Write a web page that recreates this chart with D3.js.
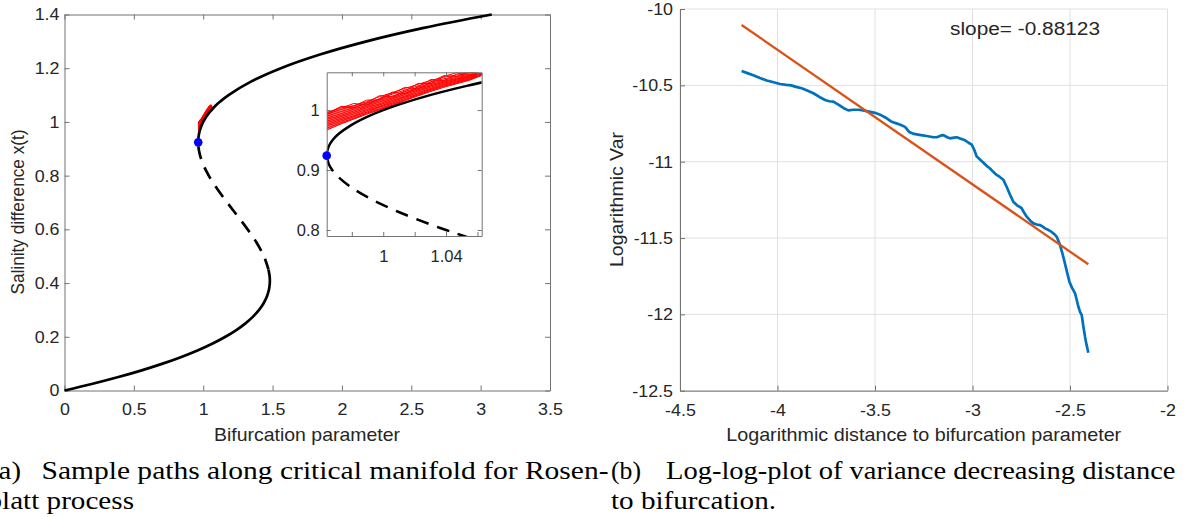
<!DOCTYPE html>
<html>
<head>
<meta charset="utf-8">
<script src="https://cdn.jsdelivr.net/npm/d3@7"></script>
<style>
  html, body { margin: 0; padding: 0; background: #fff; }
  svg { display: block; }
  text { font-family: 'Liberation Sans', Arial, sans-serif; fill: #262626; }
  text.cap { font-family: 'Liberation Serif', 'DejaVu Serif', serif; fill: #000; }
</style>
</head>
<body>
<svg id="fig" width="1186" height="517"></svg>
<script>
/* ---------- data ---------- */

// (a) critical manifold, points are [bifurcation parameter, salinity difference]
const lowerBranch = [
  [0, 0], [0.2032, 0.025], [0.3884, 0.05], [0.5563, 0.075], [0.7075, 0.1],
  [0.8428, 0.125], [0.9628, 0.15], [1.0683, 0.175], [1.16, 0.2], [1.2386, 0.225],
  [1.3047, 0.25], [1.3591, 0.275], [1.4025, 0.3], [1.4355, 0.325], [1.4591, 0.35],
  [1.4737, 0.375], [1.48, 0.4], [1.4804, 0.41], [1.4789, 0.425], [1.4709, 0.45]
];
const middleBranch = [
  [0.964, 0.924], [0.9653, 0.91], [0.9675, 0.9], [0.9708, 0.89], [0.9803, 0.87],
  [0.9934, 0.85], [1.0099, 0.83], [1.0293, 0.81], [1.04, 0.8], [1.0513, 0.79],
  [1.0755, 0.77], [1.1016, 0.75], [1.1725, 0.7], [1.2472, 0.65], [1.32, 0.6],
  [1.3853, 0.55], [1.4375, 0.5], [1.4709, 0.45]
];
const upperBranch = [
  [0.964, 0.924], [0.9642, 0.93], [0.9654, 0.94], [0.9678, 0.95], [0.9715, 0.96],
  [0.9796, 0.975], [0.9907, 0.99], [1.0, 1.0], [1.0108, 1.01], [1.0298, 1.025],
  [1.0525, 1.04], [1.0697, 1.05], [1.0886, 1.06], [1.1204, 1.075], [1.1825, 1.1],
  [1.3441, 1.15], [1.56, 1.2], [1.8359, 1.25], [2.1775, 1.3], [2.5903, 1.35], [3.08, 1.4]
];
const foldPoint = [0.964, 0.924];

// sample paths: shared parameter grid, one row of values per path
const pathLambda = [0.9642, 0.9730, 0.9812, 0.9894, 0.9976, 1.0058, 1.0140,
                    1.0222, 1.0304, 1.0386, 1.0468, 1.0550, 1.0627];
const bandLow  = [0.9665, 0.9762, 0.9844, 0.9926, 1.0000, 1.0077, 1.0155,
                  1.0233, 1.0308, 1.0375, 1.0434, 1.0492, 1.0575];
const bandHigh = [0.9961, 1.0020, 1.0080, 1.0135, 1.0190, 1.0245, 1.0310,
                  1.0385, 1.0445, 1.0495, 1.0535, 1.0570, 1.0603];
const samplePaths = [
  [0.9670, 0.9768, 0.9850, 0.9930, 1.0005, 1.0082, 1.0160, 1.0238, 1.0312, 1.0380, 1.0440, 1.0498, 1.0578],
  [0.9700, 0.9790, 0.9862, 0.9948, 1.0020, 1.0100, 1.0172, 1.0255, 1.0330, 1.0398, 1.0455, 1.0510, 1.0582],
  [0.9735, 0.9815, 0.9890, 0.9965, 1.0048, 1.0118, 1.0195, 1.0270, 1.0345, 1.0415, 1.0470, 1.0522, 1.0586],
  [0.9760, 0.9840, 0.9905, 0.9990, 1.0060, 1.0140, 1.0218, 1.0292, 1.0362, 1.0430, 1.0484, 1.0535, 1.0590],
  [0.9790, 0.9862, 0.9935, 1.0010, 1.0085, 1.0160, 1.0235, 1.0318, 1.0385, 1.0448, 1.0500, 1.0548, 1.0594],
  [0.9815, 0.9890, 0.9960, 1.0040, 1.0105, 1.0185, 1.0262, 1.0338, 1.0405, 1.0465, 1.0515, 1.0560, 1.0597],
  [0.9845, 0.9912, 0.9985, 1.0060, 1.0135, 1.0205, 1.0285, 1.0360, 1.0425, 1.0482, 1.0528, 1.0570, 1.0600],
  [0.9870, 0.9940, 1.0015, 1.0080, 1.0160, 1.0232, 1.0310, 1.0382, 1.0448, 1.0500, 1.0545, 1.0580, 1.0602],
  [0.9900, 0.9975, 1.0040, 1.0110, 1.0190, 1.0265, 1.0335, 1.0405, 1.0470, 1.0522, 1.0562, 1.0592, 1.0604],
  [0.9930, 1.0010, 1.0075, 1.0140, 1.0225, 1.0290, 1.0362, 1.0430, 1.0495, 1.0548, 1.0585, 1.0605, 1.0606],
  [0.9955, 1.0050, 1.0035, 1.0120, 1.0240, 1.0220, 1.0320, 1.0445, 1.0440, 1.0560, 1.0625, 1.0595, 1.0605],
  [0.9960, 1.0030, 1.0110, 1.0085, 1.0190, 1.0300, 1.0270, 1.0390, 1.0510, 1.0490, 1.0600, 1.0640, 1.0604],
  [0.9925, 1.0060, 1.0065, 1.0165, 1.0170, 1.0280, 1.0380, 1.0350, 1.0470, 1.0575, 1.0560, 1.0630, 1.0603]
];

// (b) log-log variance
const logDist = [
  -4.184, -4.155, -4.124, -4.090, -4.055, -4.020, -3.987, -3.955, -3.930, -3.905,
  -3.876, -3.845, -3.816, -3.785, -3.756, -3.735, -3.714, -3.690, -3.660, -3.637,
  -3.610, -3.585, -3.568, -3.530, -3.500, -3.474, -3.445, -3.420, -3.397, -3.370,
  -3.346, -3.325, -3.300, -3.265, -3.235, -3.200, -3.183, -3.160, -3.149, -3.130,
  -3.115, -3.095, -3.081, -3.060, -3.038, -3.020, -3.004, -2.990, -2.979, -2.962,
  -2.945, -2.925, -2.910, -2.895, -2.876, -2.860, -2.842, -2.825, -2.808, -2.791,
  -2.773, -2.748, -2.735, -2.722, -2.705, -2.688, -2.670, -2.654, -2.640, -2.628,
  -2.610, -2.594, -2.580, -2.568, -2.551, -2.538, -2.526, -2.514, -2.503, -2.490,
  -2.474, -2.457, -2.448, -2.440, -2.432, -2.423, -2.415, -2.406
];
const logVar = [
  -10.406, -10.420, -10.434, -10.452, -10.468, -10.480, -10.491, -10.497, -10.500, -10.510,
  -10.519, -10.535, -10.552, -10.576, -10.596, -10.604, -10.607, -10.625, -10.650, -10.664,
  -10.660, -10.660, -10.662, -10.672, -10.680, -10.692, -10.712, -10.735, -10.746, -10.758,
  -10.772, -10.805, -10.818, -10.826, -10.832, -10.840, -10.840, -10.828, -10.826, -10.840,
  -10.847, -10.842, -10.840, -10.850, -10.860, -10.876, -10.888, -10.925, -10.965, -10.985,
  -11.005, -11.030, -11.045, -11.065, -11.087, -11.100, -11.118, -11.164, -11.215, -11.262,
  -11.284, -11.305, -11.335, -11.360, -11.385, -11.404, -11.412, -11.415, -11.425, -11.437,
  -11.448, -11.460, -11.475, -11.492, -11.546, -11.605, -11.666, -11.730, -11.786, -11.825,
  -11.862, -11.950, -11.985, -12.004, -12.075, -12.146, -12.200, -12.251
];
const fitDist = [-4.184, -2.406];
const fitVar  = [-10.105, -11.672];
const slopeText = 'slope= -0.88123';

// ticks
const leftXTicks   = [0, 0.5, 1, 1.5, 2, 2.5, 3, 3.5];
const leftYTicks   = [0, 0.2, 0.4, 0.6, 0.8, 1, 1.2, 1.4];
const insetXTicks  = [0.98, 1, 1.02, 1.04, 1.06];
const insetXLabels = [1, 1.04];
const insetYTicks  = [0.8, 0.9, 1];
const rightXTicks  = [-4.5, -4, -3.5, -3, -2.5, -2];
const rightYTicks  = [-12.5, -12, -11.5, -11, -10.5, -10];

/* ---------- drawing ---------- */

const AXIS_COLOR = '#737373';
const GRID_COLOR = '#e0e0e0';
const TICK_FONT = 17;
const STRETCH = 1.05;

const svg = d3.select('#fig');
svg.append('rect').attr('width', 1186).attr('height', 517).attr('fill', '#fff');

function styleAxis(g, opts) {
  g.attr('font-size', null).attr('font-family', null);
  g.select('.domain').attr('stroke', AXIS_COLOR).attr('stroke-width', 1);
  g.selectAll('.tick line').attr('stroke', AXIS_COLOR).attr('stroke-width', 1);
  const t = g.selectAll('.tick text').style('font-size', (opts.size || TICK_FONT) + 'px');
  const s = opts.stretch || 1;
  if (opts.side === 'left') {
    t.attr('x', -opts.pad / s).attr('transform', `scale(${s},1)`);
  } else {
    t.attr('transform', `scale(${s},1)`);
  }
}

function label(txt, x, y, size, len, rot, cls) {
  const t = svg.append('text')
    .attr('transform', `translate(${x},${y})` + (rot ? ` rotate(${rot})` : ''))
    .attr('text-anchor', cls ? 'start' : 'middle')
    .style('font-size', size + 'px')
    .text(txt);
  if (cls) t.attr('class', cls);
  if (len) t.attr('textLength', len).attr('lengthAdjust', 'spacingAndGlyphs');
  return t;
}

// ===== (a) left panel =====
const lx = d3.scaleLinear().domain([0, 3.5]).range([64.5, 550]);
const ly = d3.scaleLinear().domain([0, 1.4]).range([390.5, 14.5]);

const fmt = d => String(d);

svg.append('g').attr('transform', `translate(0,${ly(0)})`)
  .call(d3.axisBottom(lx).tickValues(leftXTicks).tickFormat(fmt)
    .tickSizeInner(-5).tickSizeOuter(0).tickPadding(12))
  .call(g => styleAxis(g, { side: 'bottom', stretch: STRETCH }));
svg.append('g').attr('transform', `translate(${lx(0)},0)`)
  .call(d3.axisLeft(ly).tickValues(leftYTicks).tickFormat(fmt)
    .tickSizeInner(-5).tickSizeOuter(0).tickPadding(5))
  .call(g => styleAxis(g, { side: 'left', pad: 5, stretch: STRETCH }));
svg.append('g').attr('transform', `translate(0,${ly(1.4)})`)
  .call(d3.axisTop(lx).tickValues(leftXTicks).tickFormat('')
    .tickSizeInner(-5).tickSizeOuter(0))
  .call(g => styleAxis(g, {}));
svg.append('g').attr('transform', `translate(${lx(3.5)},0)`)
  .call(d3.axisRight(ly).tickValues(leftYTicks).tickFormat('')
    .tickSizeInner(-5).tickSizeOuter(0))
  .call(g => styleAxis(g, {}));

// curves go into g (may be clipped); the fold marker goes into dotLayer (never clipped)
function drawManifold(g, dotLayer, xs, ys, width, dotR) {
  const line = d3.line().x(d => xs(d[0])).y(d => ys(d[1]))
    .curve(d3.curveCatmullRom.alpha(0.5));
  const band = pathLambda.map((l, i) => [l, bandLow[i], bandHigh[i]]);
  g.append('path')
    .attr('d', d3.area().x(d => xs(d[0])).y0(d => ys(d[1])).y1(d => ys(d[2]))
      .curve(d3.curveLinear)(band))
    .attr('fill', '#ff0000').attr('fill-opacity', 0.55);
  samplePaths.forEach(p => {
    g.append('path')
      .attr('d', d3.line().x(d => xs(d[0])).y(d => ys(d[1]))(pathLambda.map((l, i) => [l, p[i]])))
      .attr('fill', 'none').attr('stroke', '#ff0000').attr('stroke-width', 1);
  });
  g.append('path').attr('d', line(lowerBranch))
    .attr('fill', 'none').attr('stroke', '#000').attr('stroke-width', width);
  g.append('path').attr('d', line(upperBranch))
    .attr('fill', 'none').attr('stroke', '#000').attr('stroke-width', width);
  g.append('path').attr('d', line(middleBranch))
    .attr('fill', 'none').attr('stroke', '#000').attr('stroke-width', width)
    .attr('stroke-dasharray', '13,9').attr('stroke-dashoffset', -4);
  dotLayer.append('circle').attr('cx', xs(foldPoint[0])).attr('cy', ys(foldPoint[1]))
    .attr('r', dotR).attr('fill', '#0000ff');
}

const mainG = svg.append('g');
drawManifold(mainG, mainG, lx, ly, 2.7, 4.3);

label('Bifurcation parameter', 307, 441, 18.5, 186);
label('Salinity difference x(t)', 24, 212, 18, 165, -90);

// inset
const ix = d3.scaleLinear().domain([0.964, 1.0627]).range([326.7, 481.7]);
const iy = d3.scaleLinear().domain([0.79, 1.063]).range([236, 72.3]);

svg.append('defs').append('clipPath').attr('id', 'insetClip')
  .append('rect').attr('x', 326.7).attr('y', 72.3).attr('width', 155).attr('height', 163.7);
svg.append('rect').attr('x', 326.7).attr('y', 72.3).attr('width', 155).attr('height', 163.7)
  .attr('fill', '#fff');

const inset = svg.append('g');
const insetCurves = inset.append('g').attr('clip-path', 'url(#insetClip)');

inset.append('g').attr('transform', `translate(0,${iy.range()[0]})`)
  .call(d3.axisBottom(ix).tickValues(insetXTicks)
    .tickFormat(d => insetXLabels.includes(d) ? String(d) : '')
    .tickSizeInner(-4).tickSizeOuter(0).tickPadding(14))
  .call(g => styleAxis(g, { side: 'bottom', stretch: 1.0, size: 16.5 }));
inset.append('g').attr('transform', `translate(${ix.range()[0]},0)`)
  .call(d3.axisLeft(iy).tickValues(insetYTicks).tickFormat(fmt)
    .tickSizeInner(-4).tickSizeOuter(0).tickPadding(7))
  .call(g => styleAxis(g, { side: 'left', pad: 7, stretch: 1.0, size: 16.5 }));
inset.append('g').attr('transform', `translate(0,${iy.range()[1]})`)
  .call(d3.axisTop(ix).tickValues(insetXTicks).tickFormat('')
    .tickSizeInner(-4).tickSizeOuter(0))
  .call(g => styleAxis(g, {}));
inset.append('g').attr('transform', `translate(${ix.range()[1]},0)`)
  .call(d3.axisRight(iy).tickValues(insetYTicks).tickFormat('')
    .tickSizeInner(-4).tickSizeOuter(0))
  .call(g => styleAxis(g, {}));

drawManifold(insetCurves, inset.append('g'), ix, iy, 2.5, 4.3);

// ===== (b) right panel =====
const rx = d3.scaleLinear().domain([-4.5, -2]).range([680, 1167.5]);
const ry = d3.scaleLinear().domain([-12.5, -10]).range([390.7, 9]);

const grid = svg.append('g');
grid.selectAll('line.gx').data(rightXTicks).join('line')
  .attr('x1', d => rx(d)).attr('x2', d => rx(d))
  .attr('y1', ry(-12.5)).attr('y2', ry(-10))
  .attr('stroke', GRID_COLOR).attr('stroke-width', 1);
grid.selectAll('line.gy').data(rightYTicks).join('line')
  .attr('x1', rx(-4.5)).attr('x2', rx(-2))
  .attr('y1', d => ry(d)).attr('y2', d => ry(d))
  .attr('stroke', GRID_COLOR).attr('stroke-width', 1);

svg.append('g').attr('transform', `translate(0,${ry(-12.5)})`)
  .call(d3.axisBottom(rx).tickValues(rightXTicks).tickFormat(fmt)
    .tickSizeInner(-5).tickSizeOuter(0).tickPadding(13))
  .call(g => styleAxis(g, { side: 'bottom', stretch: STRETCH }));
svg.append('g').attr('transform', `translate(${rx(-4.5)},0)`)
  .call(d3.axisLeft(ry).tickValues(rightYTicks).tickFormat(fmt)
    .tickSizeInner(-5).tickSizeOuter(0).tickPadding(7))
  .call(g => styleAxis(g, { side: 'left', pad: 7, stretch: STRETCH }));

const varLine = d3.line().x(d => rx(d[0])).y(d => ry(d[1]));
svg.append('path').attr('d', varLine(logDist.map((d, i) => [d, logVar[i]])))
  .attr('fill', 'none').attr('stroke', '#0072BD').attr('stroke-width', 2.7)
  .attr('stroke-linejoin', 'round');
svg.append('path').attr('d', varLine(fitDist.map((d, i) => [d, fitVar[i]])))
  .attr('fill', 'none').attr('stroke', '#D95319').attr('stroke-width', 2.3);

label(slopeText, 950, 35, 18, 150, 0, 'slope');
label('Logarithmic distance to bifurcation parameter', 923.7, 441, 18.5, 395);
label('Logarithmic Var', 623, 199.5, 18.5, 135, -90);

// ===== captions =====
label('(a)', -11, 479, 25.5, 32, 0, 'cap');
label('Sample paths along critical manifold for Rosen-', 41.5, 479, 25.5, 567, 0, 'cap');
label('blatt process', -12.5, 509, 25.5, 146.5, 0, 'cap');
label('(b)', 611, 479, 25.5, 30, 0, 'cap');
label('Log-log-plot of variance decreasing distance', 666, 479, 25.5, 509.5, 0, 'cap');
label('to bifurcation.', 611, 509, 25.5, 165, 0, 'cap');
</script>
</body>
</html>
